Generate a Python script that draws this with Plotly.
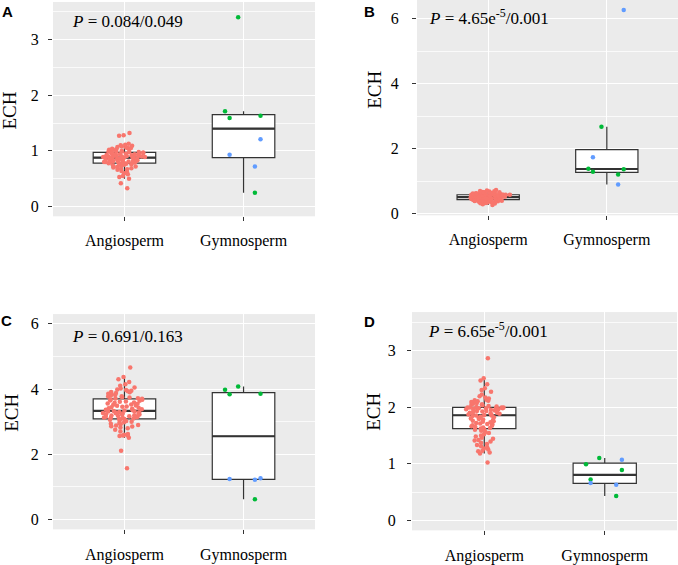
import numpy as np
import plotly.graph_objects as go

CATS = ["Angiosperm", "Gymnosperm"]
RED, GREEN, BLUE = "#F8766D", "#00BA38", "#619CFF"

# ---- panel A ----
a_angio = [0.33, 0.42, 0.50, 0.53, 0.55, 0.58, 0.60, 0.62, 0.64, 0.66, 0.67, 0.68, 0.69,
           0.70, 0.71, 0.72, 0.73, 0.74, 0.75, 0.75, 0.76, 0.77, 0.77, 0.78, 0.78,
           0.78, 0.79, 0.79, 0.79, 0.80, 0.80, 0.80, 0.81, 0.81, 0.81, 0.82, 0.82, 0.83,
           0.83, 0.83, 0.84, 0.84, 0.85, 0.85, 0.86, 0.86, 0.86, 0.87, 0.87, 0.88,
           0.88, 0.88, 0.89, 0.89, 0.89, 0.89, 0.90, 0.90, 0.90, 0.91, 0.91, 0.91, 0.92,
           0.92, 0.93, 0.93, 0.93, 0.94, 0.94, 0.95, 0.95, 0.96, 0.96, 0.97, 0.97,
           0.98, 0.98, 0.98, 0.99, 0.99, 1.00, 1.00, 1.01, 1.02, 1.02, 1.03, 1.03, 1.04,
           1.05, 1.05, 1.06, 1.07, 1.08, 1.09, 1.10, 1.11, 1.13, 1.27, 1.28, 1.32]
a_gym_green = [3.40, 1.71, 1.63, 1.59, 0.25]
a_gym_blue = [1.21, 0.93, 0.72]

# ---- panel B ----
b_angio = [0.27, 0.29, 0.31, 0.32, 0.33, 0.34, 0.35, 0.36, 0.36, 0.37, 0.37, 0.38, 0.38,
           0.39, 0.39, 0.40, 0.40, 0.40, 0.41, 0.41, 0.41, 0.42, 0.42, 0.42, 0.43,
           0.43, 0.44, 0.44, 0.44, 0.45, 0.45, 0.45, 0.46, 0.46, 0.46, 0.47, 0.47, 0.47,
           0.48, 0.48, 0.48, 0.49, 0.49, 0.49, 0.50, 0.50, 0.50, 0.50, 0.51, 0.51,
           0.51, 0.52, 0.52, 0.52, 0.53, 0.53, 0.53, 0.54, 0.54, 0.54, 0.55, 0.55, 0.55,
           0.56, 0.56, 0.56, 0.57, 0.57, 0.57, 0.57, 0.58, 0.58, 0.58, 0.58, 0.58,
           0.59, 0.59, 0.59, 0.60, 0.60, 0.60, 0.61, 0.61, 0.61, 0.62, 0.62, 0.63, 0.63,
           0.64, 0.64, 0.65, 0.65, 0.66, 0.66, 0.67, 0.68, 0.69, 0.70, 0.71, 0.73]
b_gym_green = [2.68, 1.38, 1.37, 1.29, 1.21]
b_gym_blue = [6.27, 1.74, 0.90]

# ---- panel C ----
c_angio = [1.57, 2.11, 2.51, 2.56, 2.58, 2.58, 2.60, 2.62, 2.70, 2.75, 2.80, 2.82, 2.85,
           2.86, 2.88, 2.90, 2.92, 2.94, 2.96, 2.98, 3.00, 3.02, 3.04, 3.06, 3.08,
           3.09, 3.10, 3.11, 3.12, 3.13, 3.14, 3.15, 3.16, 3.17, 3.18, 3.19, 3.20, 3.21,
           3.22, 3.23, 3.24, 3.25, 3.26, 3.27, 3.28, 3.29, 3.30, 3.31, 3.32, 3.33,
           3.34, 3.35, 3.37, 3.38, 3.40, 3.41, 3.43, 3.44, 3.46, 3.47, 3.49, 3.50, 3.52,
           3.53, 3.55, 3.56, 3.58, 3.59, 3.61, 3.62, 3.64, 3.65, 3.67, 3.68, 3.70,
           3.71, 3.72, 3.74, 3.75, 3.77, 3.78, 3.80, 3.82, 3.84, 3.86, 3.88, 3.90, 3.91,
           3.93, 3.95, 3.97, 3.99, 4.02, 4.05, 4.10, 4.15, 4.22, 4.30, 4.37, 4.66]
c_gym_green = [4.08, 3.98, 3.86, 3.84, 0.62]
c_gym_blue = [1.27, 1.24, 1.22]

# ---- panel D ----
d_angio = [1.02, 1.18, 1.20, 1.22, 1.23, 1.25, 1.27, 1.29, 1.31, 1.33, 1.35, 1.37, 1.39,
           1.41, 1.42, 1.44, 1.46, 1.48, 1.50, 1.52, 1.54, 1.56, 1.58, 1.60, 1.61,
           1.62, 1.63, 1.64, 1.65, 1.66, 1.67, 1.68, 1.69, 1.70, 1.71, 1.72, 1.73, 1.74,
           1.75, 1.76, 1.77, 1.78, 1.79, 1.80, 1.81, 1.82, 1.83, 1.84, 1.85, 1.85,
           1.86, 1.87, 1.87, 1.88, 1.89, 1.90, 1.90, 1.91, 1.92, 1.93, 1.93, 1.94, 1.95,
           1.95, 1.96, 1.96, 1.97, 1.97, 1.98, 1.98, 1.98, 1.99, 1.99, 1.99, 1.99,
           2.00, 2.01, 2.02, 2.03, 2.04, 2.05, 2.06, 2.07, 2.08, 2.09, 2.10, 2.11, 2.12,
           2.13, 2.15, 2.17, 2.19, 2.22, 2.27, 2.30, 2.33, 2.40, 2.47, 2.51, 2.86]
d_gym_green = [1.10, 0.99, 0.89, 0.72, 0.43]
d_gym_blue = [1.07, 0.66, 0.63]

p_labels = ["<i>P</i> = 0.084/0.049", "<i>P</i> = 4.65e<sup>-5</sup>/0.001",
            "<i>P</i> = 0.691/0.163", "<i>P</i> = 6.65e<sup>-5</sup>/0.001"]
panel_letters = ["A", "B", "C", "D"]

SERIF = "Liberation Serif, Times New Roman, serif"
W, H = 678, 565


def box_stats(vals):
    v = np.asarray(vals, dtype=float)
    q1, med, q3 = np.percentile(v, [25, 50, 75])
    iqr = q3 - q1
    lo = v[v >= q1 - 1.5 * iqr].min()
    hi = v[v <= q3 + 1.5 * iqr].max()
    return q1, med, q3, lo, hi


panels = [
    dict(angio=a_angio, green=a_gym_green, blue=a_gym_blue, yr=[-0.175, 3.675], dt=1,
         px=(53, 315), py=(2, 219), ech=(10, 112), pl=(70, 22), let=(0, 12), sd=6),
    dict(angio=b_angio, green=b_gym_green, blue=b_gym_blue, yr=[-0.05, 6.58], dt=2,
         px=(417, 678), py=(0, 218), ech=(375, 91), pl=(427, 17), let=(362, 12), sd=10),
    dict(angio=c_angio, green=c_gym_green, blue=c_gym_blue, yr=[-0.3, 6.3], dt=2,
         px=(53, 315), py=(318, 536), ech=(12, 418), pl=(70, 341), let=(-1, 325), sd=6),
    dict(angio=d_angio, green=d_gym_green, blue=d_gym_blue, yr=[-0.175, 3.675], dt=1,
         px=(412, 677), py=(316, 537), ech=(374, 417), pl=(426, 334), let=(362, 326), sd=8),
]

fig = go.Figure()
annotations = []
layout_axes = {}

for i, p in enumerate(panels):
    n = "" if i == 0 else str(i + 1)
    xa, ya = "x" + n, "y" + n

    sa = box_stats(p["angio"])
    sg = box_stats(p["green"] + p["blue"])
    q1, med, q3, lo, hi = [[sa[k], sg[k]] for k in range(5)]

    # box with whiskers
    fig.add_trace(go.Box(
        x=CATS, q1=q1, median=med, q3=q3, lowerfence=lo, upperfence=hi,
        fillcolor="white", line=dict(color="#333333", width=1.2), whiskerwidth=0,
        boxpoints=False, xaxis=xa, yaxis=ya, showlegend=False, hoverinfo="skip"))
    # thicker median line
    fig.add_trace(go.Box(
        x=CATS, q1=med, median=med, q3=med, lowerfence=med, upperfence=med,
        fillcolor="rgba(0,0,0,0)", line=dict(color="#333333", width=2.2), whiskerwidth=0,
        boxpoints=False, xaxis=xa, yaxis=ya, showlegend=False, hoverinfo="skip"))

    # jittered points
    for cat, vals, col in [("Angiosperm", p["angio"], RED),
                           ("Gymnosperm", p["green"], GREEN),
                           ("Gymnosperm", p["blue"], BLUE)]:
        fig.add_trace(go.Box(
            x=[cat] * len(vals), y=vals, boxpoints="all", jitter=0.7, pointpos=0,
            marker=dict(color=col, size=4.5), line=dict(width=0),
            fillcolor="rgba(0,0,0,0)", xaxis=xa, yaxis=ya, showlegend=False,
            hoverinfo="y"))

    x0, x1 = p["px"]
    y0, y1 = p["py"]
    layout_axes["xaxis" + n] = dict(
        domain=[x0 / W, x1 / W], anchor=ya, type="category",
        categoryorder="array", categoryarray=CATS, range=[-0.6, 1.6],
        showgrid=True, gridcolor="white", gridwidth=1, zeroline=False, showline=False,
        ticks="outside", ticklen=4, tickcolor="#333333", ticklabelstandoff=6,
        tickfont=dict(family=SERIF, size=16, color="black"))
    layout_axes["yaxis" + n] = dict(
        domain=[1 - y1 / H, 1 - y0 / H], anchor=xa, range=p["yr"], dtick=p["dt"], tick0=0,
        showgrid=True, gridcolor="white", gridwidth=1, zeroline=False, showline=False,
        minor=dict(dtick=p["dt"] / 2, tick0=0, showgrid=True,
                   gridcolor="rgba(255,255,255,0.75)", gridwidth=0.6),
        ticks="outside", ticklen=4, tickcolor="#333333", ticklabelstandoff=p["sd"],
        tickfont=dict(family=SERIF, size=16, color="black"))

    ex, ey = p["ech"]
    annotations.append(dict(text="ECH", x=ex / W, y=1 - ey / H, xref="paper", yref="paper",
                            textangle=-90, showarrow=False, xanchor="center", yanchor="middle",
                            font=dict(family=SERIF, size=19, color="black")))
    lx, ly = p["pl"]
    annotations.append(dict(text=p_labels[i], x=lx / W, y=1 - ly / H, xref="paper", yref="paper",
                            showarrow=False, xanchor="left", yanchor="middle",
                            font=dict(family=SERIF, size=17, color="black")))
    tx, ty = p["let"]
    annotations.append(dict(text="<b>" + panel_letters[i] + "</b>", x=tx / W, y=1 - ty / H,
                            xref="paper", yref="paper", showarrow=False, xanchor="left",
                            yanchor="middle",
                            font=dict(family="Liberation Sans, Arial, sans-serif", size=15,
                                      color="black")))

fig.update_layout(
    width=W, height=H, margin=dict(l=0, r=0, t=0, b=0),
    paper_bgcolor="white", plot_bgcolor="#EBEBEB",
    boxmode="overlay", boxgap=0.25,
    annotations=annotations, showlegend=False,
    **layout_axes,
)

# drop the browser's default body margin so the 678x565 figure fills the window
fig.write_html("out.html", config={"displayModeBar": False},
               post_script="document.body.style.margin='0px';")
